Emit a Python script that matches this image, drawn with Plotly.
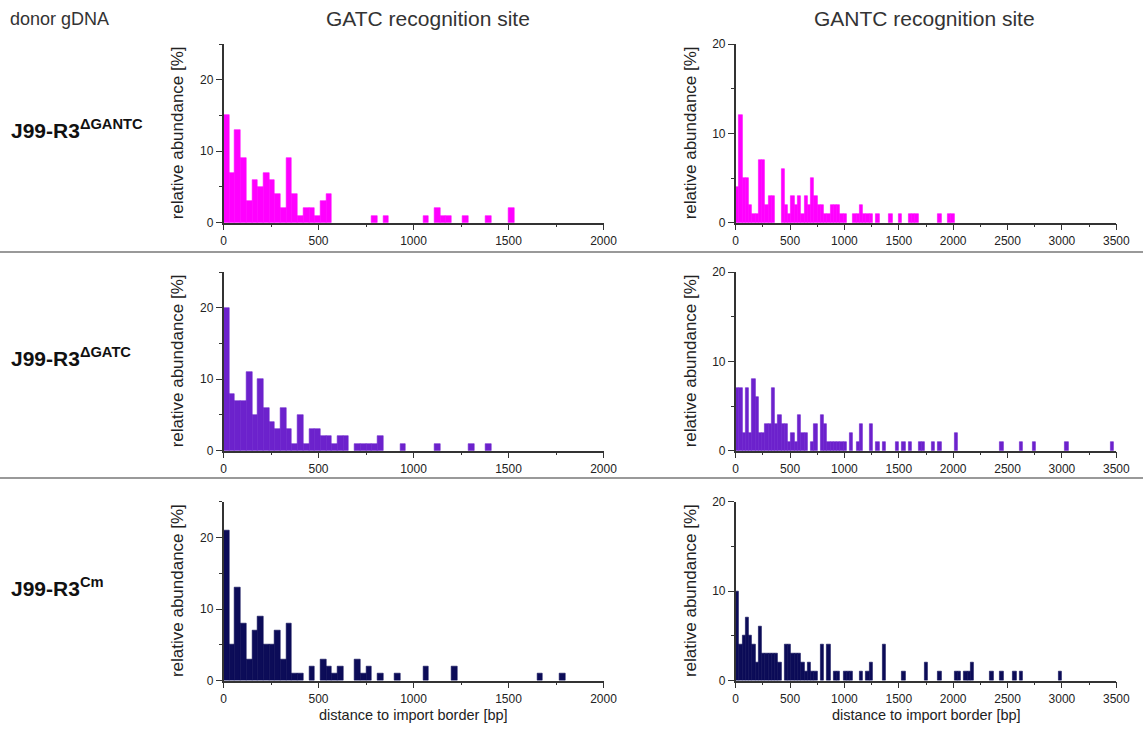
import plotly.graph_objects as go

# ---------------- data (percent per 30-bp bin, starting at 0 bp) ----------------
BIN_WIDTH = 30

gatc_dgantc = [15, 7, 13, 9, 3, 6, 5, 7, 6, 4, 2, 9, 4, 1, 2, 2, 1, 3, 4, 0,
               0, 0, 0, 0, 0, 0, 1, 0, 1, 0, 0, 0, 0, 0, 0, 1, 0, 2, 1, 1,
               0, 0, 1, 0, 0, 0, 1, 0, 0, 0, 2]
gantc_dgantc = [4, 12, 5, 5, 2, 1, 1, 7, 7, 2, 3, 3, 0, 0, 6, 2, 1, 3, 2, 3,
                1, 3, 2, 5, 3, 2, 2, 1, 1, 2, 2, 2, 1, 1, 0, 0, 1, 1, 2, 1,
                1, 1, 0, 1, 0, 0, 0, 1, 0, 0, 1, 0, 0, 1, 1, 1, 0, 0, 0, 0,
                0, 0, 1, 0, 0, 1, 1]
gatc_dgatc = [20, 8, 7, 7, 11, 5, 10, 6, 4, 3, 6, 3, 1, 5, 1, 3, 3, 2, 2, 1,
              2, 2, 0, 1, 1, 1, 1, 2, 0, 0, 0, 1, 0, 0, 0, 0, 0, 1, 0, 0,
              0, 0, 0, 1, 0, 0, 1]
gantc_dgatc = [7, 7, 2, 7, 2, 8, 6, 2, 2, 3, 3, 7, 3, 4, 3, 3, 1, 2, 1, 4,
               2, 2, 0, 1, 3, 0, 4, 3, 1, 1, 1, 1, 1, 1, 0, 2, 0, 1, 3, 0,
               0, 3, 0, 1, 0, 1, 0, 0, 0, 1, 0, 1, 0, 1, 0, 0, 1, 1, 0, 0,
               1, 0, 1, 0, 0, 0, 0, 2, 0, 0, 0, 0, 0, 0, 0, 0, 0, 0, 0, 0,
               0, 1, 0, 0, 0, 0, 0, 1, 0, 0, 0, 1, 0, 0, 0, 0, 0, 0, 0, 0,
               0, 1, 0, 0, 0, 0, 0, 0, 0, 0, 0, 0, 0, 0, 0, 1]
gatc_cm = [21, 5, 13, 8, 3, 7, 9, 5, 5, 7, 3, 8, 1, 1, 0, 2, 0, 3, 2, 1,
           2, 0, 0, 3, 1, 2, 0, 1, 0, 0, 1, 0, 0, 0, 0, 2, 0, 0, 0, 0,
           2, 0, 0, 0, 0, 0, 0, 0, 0, 0, 0, 0, 0, 0, 0, 1, 0, 0, 0, 1]
gantc_cm = [10, 4, 5, 7, 5, 4, 2, 6, 3, 3, 3, 3, 3, 2, 0, 4, 4, 3, 3, 3,
            2, 1, 2, 1, 1, 0, 4, 0, 4, 0, 1, 1, 0, 1, 1, 1, 0, 0, 1, 0,
            1, 2, 0, 0, 0, 4, 0, 0, 0, 0, 0, 1, 0, 0, 0, 0, 0, 0, 2, 0,
            0, 0, 1, 0, 0, 0, 0, 1, 1, 0, 1, 1, 2, 0, 0, 0, 0, 0, 1, 0,
            0, 1, 0, 0, 0, 1, 0, 1, 0, 0, 0, 0, 0, 0, 0, 0, 0, 0, 0, 1]

row_labels = ["J99-R3<sup>ΔGANTC</sup>", "J99-R3<sup>ΔGATC</sup>", "J99-R3<sup>Cm</sup>"]
col_titles = ["GATC recognition site", "GANTC recognition site"]
header_left = "donor gDNA"
y_title = "relative abundance [%]"
x_title = "distance to import border [bp]"
row_colors = ["#ff00ff", "#6c22cc", "#0c0c58"]
x_ticks_left = [0, 500, 1000, 1500, 2000]
x_ticks_right = [0, 500, 1000, 1500, 2000, 2500, 3000, 3500]
y_ticks = [0, 10, 20]

panels = [
    (gatc_dgantc, 0, 0), (gantc_dgantc, 0, 1),
    (gatc_dgatc, 1, 0), (gantc_dgatc, 1, 1),
    (gatc_cm, 2, 0), (gantc_cm, 2, 1),
]

# ---------------- layout geometry (pixels) ----------------
W, H = 1143, 745
col_px = [(223.5, 603.5), (735.7, 1116.3)]
row_px = [(44, 222.7), (272, 450.7), (501.5, 680.7)]
col_ranges = [[0, 2000], [0, 3500]]
col_ymax = [25, 20]
ytitle_x = [177, 690]
FONT = "Liberation Sans, Arial, sans-serif"
AX = "#333333"
TXT = "#222222"

fig = go.Figure()
layout = dict(width=W, height=H, autosize=False,
              margin=dict(l=0, r=0, t=0, b=0, pad=0, autoexpand=False),
              paper_bgcolor="white", plot_bgcolor="white", showlegend=False,
              bargap=0, font=dict(family=FONT, size=12, color=TXT))

annotations = []
for i, (vals, r, c) in enumerate(panels):
    n = i + 1
    xa = "x" if n == 1 else f"x{n}"
    ya = "y" if n == 1 else f"y{n}"
    # only non-empty bins are drawn (empty bins leave no mark)
    idx = [k for k, v in enumerate(vals) if v > 0]
    centers = [k * BIN_WIDTH + BIN_WIDTH / 2 for k in idx]
    heights = [vals[k] for k in idx]
    fig.add_trace(go.Bar(x=centers, y=heights, width=BIN_WIDTH, xaxis=xa, yaxis=ya,
                         marker=dict(color=row_colors[r],
                                     line=dict(color=row_colors[r], width=0.6)),
                         hoverinfo="x+y"))
    x0, x1 = col_px[c]
    ytop, ybot = row_px[r]
    xk = "xaxis" if n == 1 else f"xaxis{n}"
    yk = "yaxis" if n == 1 else f"yaxis{n}"
    layout[xk] = dict(domain=[x0 / W, x1 / W], anchor=ya, range=col_ranges[c],
                      tickvals=x_ticks_left if c == 0 else x_ticks_right,
                      showgrid=False, zeroline=False, showline=True, automargin=False,
                      linecolor=AX, linewidth=1.5, ticks="outside", ticklen=6,
                      tickwidth=1.3, tickcolor=AX, tickfont=dict(size=12, color=TXT),
                      minor=dict(dtick=250, tick0=0, ticks="outside", ticklen=3,
                                 tickwidth=1.2, tickcolor=AX, showgrid=False),
                      fixedrange=True)
    layout[yk] = dict(domain=[1 - ybot / H, 1 - ytop / H], anchor=xa,
                      range=[0, col_ymax[c]], tickvals=y_ticks,
                      showgrid=False, zeroline=False, showline=True, automargin=False,
                      linecolor=AX, linewidth=1.5, ticks="outside", ticklen=6,
                      tickwidth=1.3, tickcolor=AX, tickfont=dict(size=12, color=TXT),
                      minor=dict(dtick=5, tick0=0, ticks="outside", ticklen=3,
                                 tickwidth=1.2, tickcolor=AX, showgrid=False),
                      fixedrange=True)
    annotations.append(dict(text=y_title, x=ytitle_x[c] / W, y=1 - (ytop + ybot) / 2 / H,
                            xanchor="center", yanchor="middle", textangle=-90,
                            font=dict(size=17, color=TXT)))
    if r == 2:
        annotations.append(dict(text=x_title, x=(x0 + x1) / 2 / W, y=1 - 715 / H,
                                xanchor="center", yanchor="middle",
                                font=dict(size=14.5, color=TXT)))

annotations += [
    dict(text=header_left, x=9 / W, y=1 - 19 / H, xanchor="left", yanchor="middle",
         font=dict(size=18, color="#333")),
    dict(text=col_titles[0], x=428 / W, y=1 - 19 / H, xanchor="center", yanchor="middle",
         font=dict(size=21, color="#333")),
    dict(text=col_titles[1], x=924 / W, y=1 - 19 / H, xanchor="center", yanchor="middle",
         font=dict(size=21, color="#333")),
]
for r, lab in enumerate(row_labels):
    yc = [129, 357, 587][r]
    annotations.append(dict(text=f"<b>{lab}</b>", x=10 / W, y=1 - yc / H,
                            xanchor="left", yanchor="middle",
                            font=dict(size=21, color="#111")))
for a in annotations:
    a.update(xref="paper", yref="paper", showarrow=False, borderpad=0)
layout["annotations"] = annotations

layout["shapes"] = [
    dict(type="line", xref="paper", yref="paper", x0=0, x1=1,
         y0=1 - yy / H, y1=1 - yy / H, line=dict(color="#777", width=1.5))
    for yy in (252, 478)
]

fig.update_layout(**layout)
fig.write_html("out.html",
               post_script="document.body.style.margin='0';document.body.style.overflow='hidden';")
